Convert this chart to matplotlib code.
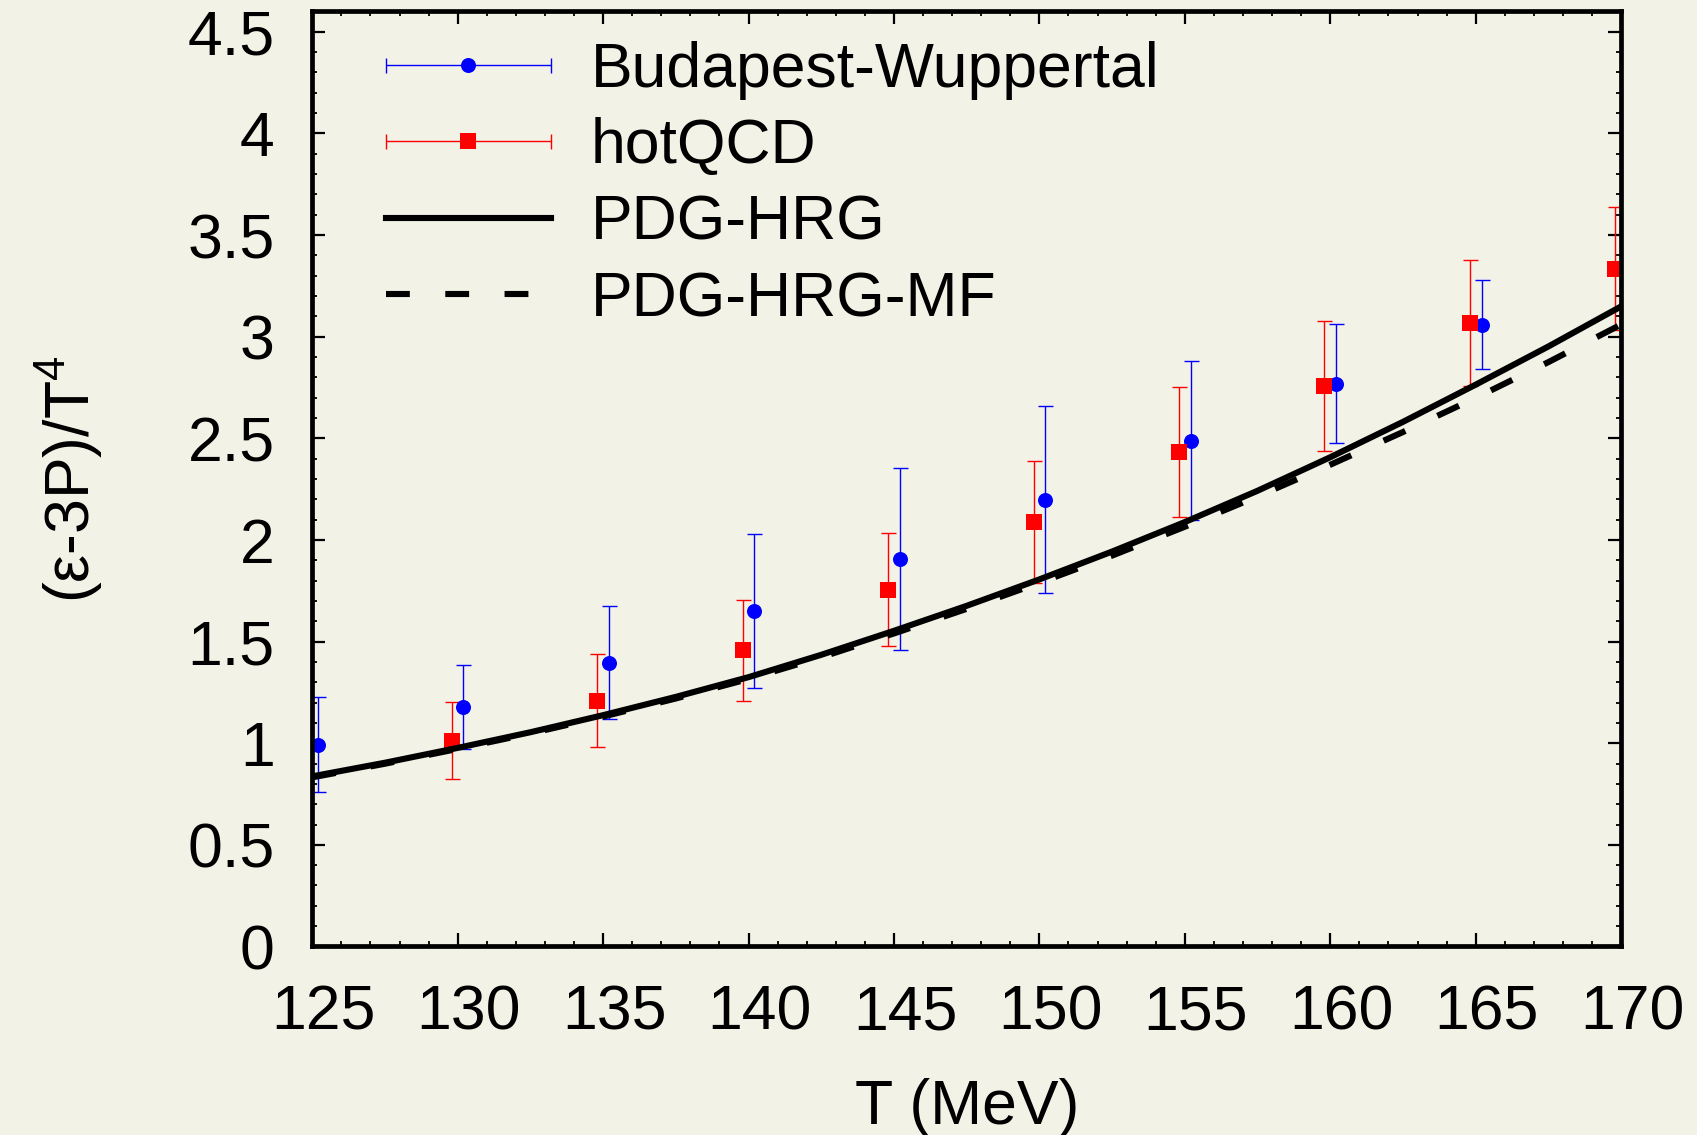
import matplotlib

matplotlib.use("Agg")

import matplotlib.pyplot as plt  # noqa: E402
from matplotlib.collections import LineCollection  # noqa: E402
from matplotlib.container import ErrorbarContainer  # noqa: E402
from matplotlib.legend_handler import HandlerErrorbar  # noqa: E402
from matplotlib.lines import Line2D  # noqa: E402
from matplotlib.ticker import FormatStrFormatter, MultipleLocator  # noqa: E402
from matplotlib.transforms import ScaledTranslation  # noqa: E402

plt.rcParams["font.family"] = ["Liberation Sans", "DejaVu Sans"]
plt.rcParams["mathtext.fontset"] = "custom"
plt.rcParams["mathtext.rm"] = "Liberation Sans"
plt.rcParams["mathtext.it"] = "Liberation Sans:italic"

BG = "#f2f2e6"
FS = 45

# lattice: Budapest-Wuppertal
T_bw = [125.2, 130.2, 135.2, 140.2, 145.2, 150.2, 155.2, 160.2, 165.2]
I_bw = [0.993, 1.179, 1.397, 1.649, 1.907, 2.198, 2.489, 2.768, 3.059]
E_bw = [0.233, 0.208, 0.278, 0.379, 0.449, 0.460, 0.392, 0.293, 0.218]

# lattice: hotQCD
T_hq = [129.8, 134.8, 139.8, 144.8, 149.8, 154.8, 159.8, 164.8, 169.8]
I_hq = [1.012, 1.210, 1.457, 1.756, 2.087, 2.432, 2.757, 3.067, 3.335]
E_hq = [0.189, 0.230, 0.249, 0.280, 0.300, 0.320, 0.320, 0.310, 0.304]

# hadron resonance gas curves
T_hrg = [125, 127.5, 130, 132.5, 135, 137.5, 140, 142.5, 145, 147.5,
         150, 152.5, 155, 157.5, 160, 162.5, 165, 167.5, 170]
I_hrg = [0.837, 0.904, 0.977, 1.054, 1.138, 1.228, 1.325, 1.435, 1.553, 1.676,
         1.806, 1.943, 2.088, 2.242, 2.407, 2.581, 2.764, 2.952, 3.149]
I_mf = [0.832, 0.899, 0.972, 1.048, 1.131, 1.220, 1.316, 1.423, 1.540, 1.661,
        1.789, 1.923, 2.065, 2.214, 2.370, 2.531, 2.699, 2.875, 3.060]

fig = plt.figure(figsize=(16.97, 11.35), dpi=100, facecolor=BG)
ax = fig.add_axes([0.1840, 0.1661, 0.7713, 0.8238], facecolor=BG)

ms_pt = 10.8
cap_pt = 5.4
for T, I, E, color, marker, ms in [
    (T_bw, I_bw, E_bw, "blue", "o", ms_pt),
    (T_hq, I_hq, E_hq, "red", "s", ms_pt + 0.4),
]:
    eb = ax.errorbar(T, I, yerr=E, fmt=marker, color=color, ms=ms,
                     elinewidth=1.0, capsize=cap_pt, capthick=1.0, zorder=2)
    eb.lines[0].set_markeredgewidth(0)

LW = 4.4
(hrg,) = ax.plot(T_hrg, I_hrg, color="black", lw=LW, zorder=3)
(mf,) = ax.plot(T_hrg, I_mf, color="black", lw=LW, dashes=(3.9, 5.8), zorder=3)

ax.set_xlim(125, 170)
ax.set_ylim(0, 4.6)
ax.xaxis.set_major_locator(MultipleLocator(5))
ax.xaxis.set_minor_locator(MultipleLocator(1))
ax.yaxis.set_major_locator(MultipleLocator(0.5))
ax.yaxis.set_minor_locator(MultipleLocator(0.1))
ax.yaxis.set_major_formatter(FormatStrFormatter("%g"))
ax.tick_params(which="both", direction="in", top=True, right=True,
               labelsize=FS, pad=27)
ax.tick_params(which="major", length=9.4, width=1.6)
ax.tick_params(which="minor", length=3.6, width=1.3)
for sp in ax.spines.values():
    sp.set_linewidth(3.4)

ax.set_xlabel("T (MeV)", fontsize=FS)
ax.set_ylabel(r"(ε-3P)/T$^{\mathrm{4}}$", fontsize=FS)
ax.xaxis.set_label_coords(0.5, -0.141)
ax.yaxis.set_label_coords(-0.158, 0.5)


def legend_errbar(color, marker, ms):
    """Horizontal error-bar legend key: marker with capped bar through it."""
    pt = Line2D([], [], ls="none", marker=marker, color=color, ms=ms, mew=0)
    cap = Line2D([], [], ls="none", marker="|", color=color,
                 ms=2 * cap_pt, mew=1.0)
    bar = LineCollection([], colors=color, linewidths=1.0)
    return ErrorbarContainer((pt, (cap,), (bar,)), has_xerr=True,
                             has_yerr=False)


h_bw = legend_errbar("blue", "o", ms_pt)
h_hq = legend_errbar("red", "s", ms_pt + 0.4)

ax.legend(
    [h_bw, h_hq, hrg, mf],
    ["Budapest-Wuppertal", "hotQCD", "PDG-HRG", "PDG-HRG-MF"],
    handler_map={ErrorbarContainer: HandlerErrorbar(xerr_size=1.32)},
    loc="upper left", bbox_to_anchor=(0.0563, 0.9688),
    frameon=False, fontsize=FS, handlelength=2.64, handletextpad=0.64,
    labelspacing=0.28, borderpad=0, borderaxespad=0, numpoints=1,
)

# x tick labels sit a little to the right of their ticks
shift = ScaledTranslation(0.11, 0, fig.dpi_scale_trans)
for lbl in ax.get_xticklabels():
    lbl.set_transform(lbl.get_transform() + shift)

fig.savefig("out.png", dpi=100, facecolor=BG)
